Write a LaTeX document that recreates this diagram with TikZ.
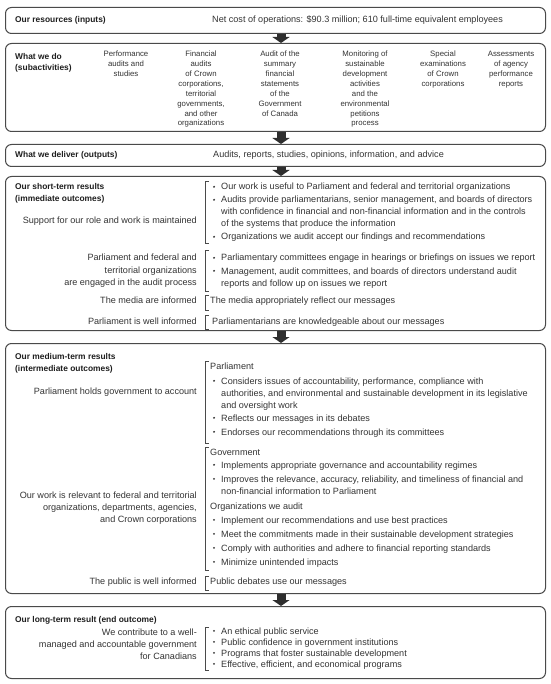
\documentclass[tikz,border=0pt]{standalone}
\usepackage{fontspec}
\setmainfont{Liberation Sans}
\usetikzlibrary{arrows.meta}
\definecolor{txt}{HTML}{333333}
\definecolor{hd}{HTML}{1E1E1E}
\definecolor{bd}{HTML}{4A4A4A}
\definecolor{ar}{HTML}{2E2E2E}
\tikzset{
  box/.style={draw=bd, line width=1pt, rounded corners=6pt, anchor=north west, inner sep=0pt, minimum width=540pt},
  hdr/.style={font=\fontsize{8.4}{10}\selectfont\bfseries, text=hd, inner sep=0pt, anchor=base west},
  body/.style={font=\fontsize{9.1}{12}\selectfont, text=txt, inner sep=0pt},
  col/.style={font=\fontsize{7.8}{10}\selectfont, text=txt, inner sep=0pt, anchor=base},
  dot/.style={circle, fill=txt, inner sep=0pt, minimum size=2.1pt},
  brk/.style={draw=bd, line width=0.6pt},
  bigarrow/.style={draw=ar, line width=9pt, -{Triangle[width=17pt,length=6pt]}}
}
\newcommand\myhd[4]{\node[hdr] (#1) at (#2,#3) {#4};}
\newcommand\mytl[4]{\node[body,anchor=base west] (#1) at (#2,#3) {#4};}
\newcommand\mytr[4]{\node[body,anchor=base east] (#1) at (#2,#3) {#4};}
\newcommand\mybul[3]{\node[dot] (#1d) at (214,#2-3.2) {}; \node[body,anchor=base west] (#1) at (221,#2) {#3};}
\newcommand\mybrk[3]{\draw[brk] (#1+4,#2) -- (#1,#2) -- (#1,#3) -- (#1+4,#3);}
\begin{document}
\begin{tikzpicture}[x=1pt,y=-1pt]
\useasboundingbox (0,0) rectangle (550,684);
\coordinate (ax) at (281,0);
% boxes
\node[box, minimum height=26pt] (b1) at (5,7) {};
\node[box, minimum height=88pt] (b2) at (5,43) {};
\node[box, minimum height=22pt] (b3) at (5,144) {};
\node[box, minimum height=154pt] (b4) at (5,176) {};
\node[box, minimum height=250pt] (b5) at (5,343) {};
\node[box, minimum height=72pt] (b6) at (5,606) {};
% arrows
\draw[bigarrow] (b1.south -| ax) -- (b2.north -| ax);
\draw[bigarrow] (b2.south -| ax) -- (b3.north -| ax);
\draw[bigarrow] (b3.south -| ax) -- (b4.north -| ax);
\draw[bigarrow] (b4.south -| ax) -- (b5.north -| ax);
\draw[bigarrow] (b5.south -| ax) -- (b6.north -| ax);
% box 1
\myhd{h1}{15}{23}{Our resources (inputs)}
\mytl{t1}{212}{23}{Net cost of operations: \$90.3 million; 610 full-time equivalent employees}
% box 2
\myhd{h2a}{15}{60}{What we do}
\myhd{h2b}{15}{71}{(subactivities)}
\foreach \t [count=\i] in {Performance, audits and, studies}
  \node[col] (ca\i) at (126,57+9.85*\i-9.85) {\t};
\foreach \t [count=\i] in {Financial, audits, of Crown, {corporations,}, territorial, {governments,}, and other, organizations}
  \node[col] (cb\i) at (201,57+9.85*\i-9.85) {\t};
\foreach \t [count=\i] in {Audit of the, summary, financial, statements, of the, Government, of Canada}
  \node[col] (cc\i) at (280,57+9.85*\i-9.85) {\t};
\foreach \t [count=\i] in {Monitoring of, sustainable, development, activities, and the, environmental, petitions, process}
  \node[col] (cd\i) at (365,57+9.85*\i-9.85) {\t};
\foreach \t [count=\i] in {Special, examinations, of Crown, corporations}
  \node[col] (ce\i) at (443,57+9.85*\i-9.85) {\t};
\foreach \t [count=\i] in {Assessments, of agency, performance, reports}
  \node[col] (cf\i) at (511,57+9.85*\i-9.85) {\t};
% box 3
\myhd{h3}{15}{158}{What we deliver (outputs)}
\mytl{t3}{213}{158}{Audits, reports, studies, opinions, information, and advice}
% box 4
\myhd{h4a}{15}{190}{Our short-term results}
\myhd{h4b}{15}{202}{(immediate outcomes)}
\mytr{l4a}{197}{224}{Support for our role and work is maintained}
\mybrk{205}{181}{243}
\mybul{s1}{190}{Our work is useful to Parliament and federal and territorial organizations}
\mybul{s2}{203}{Audits provide parliamentarians, senior management, and boards of directors}
\mytl{s2b}{221}{215}{with confidence in financial and non-financial information and in the controls}
\mytl{s2c}{221}{227}{of the systems that produce the information}
\mybul{s3}{240}{Organizations we audit accept our findings and recommendations}
\mytr{l4b}{197}{261}{Parliament and federal and}
\mytr{l4c}{197}{273}{territorial organizations}
\mytr{l4d}{197}{285}{are engaged in the audit process}
\mybrk{205}{250}{291}
\mybul{s4}{261}{Parliamentary committees engage in hearings or briefings on issues we report}
\mybul{s5}{274}{Management, audit committees, and boards of directors understand audit}
\mytl{s5b}{221}{286}{reports and follow up on issues we report}
\mytr{l4e}{197}{303}{The media are informed}
\mybrk{205}{295}{310}
\mytl{s6}{210}{303}{The media appropriately reflect our messages}
\mytr{l4f}{197}{324}{Parliament is well informed}
\mybrk{205}{315}{329}
\mytl{s7}{212}{324}{Parliamentarians are knowledgeable about our messages}
% box 5
\myhd{h5a}{15}{359}{Our medium-term results}
\myhd{h5b}{15}{371}{(intermediate outcomes)}
\mybrk{205}{361}{443}
\mytl{p0}{210}{369}{Parliament}
\mybul{p1}{384}{Considers issues of accountability, performance, compliance with}
\mytl{p1b}{221}{396}{authorities, and environmental and sustainable development in its legislative}
\mytl{p1c}{221}{408}{and oversight work}
\mybul{p2}{421}{Reflects our messages in its debates}
\mybul{p3}{435}{Endorses our recommendations through its committees}
\mytr{l5a}{197}{394}{Parliament holds government to account}
\mybrk{205}{447}{570}
\mytl{g0}{210}{455}{Government}
\mybul{g1}{468}{Implements appropriate governance and accountability regimes}
\mybul{g2}{482}{Improves the relevance, accuracy, reliability, and timeliness of financial and}
\mytl{g2b}{221}{494}{non-financial information to Parliament}
\mytl{o0}{210}{509}{Organizations we audit}
\mybul{o1}{523}{Implement our recommendations and use best practices}
\mybul{o2}{537}{Meet the commitments made in their sustainable development strategies}
\mybul{o3}{551}{Comply with authorities and adhere to financial reporting standards}
\mybul{o4}{565}{Minimize unintended impacts}
\mytr{l5b}{197}{498}{Our work is relevant to federal and territorial}
\mytr{l5c}{197}{510}{organizations, departments, agencies,}
\mytr{l5d}{197}{522}{and Crown corporations}
\mytr{l5e}{197}{584}{The public is well informed}
\mybrk{205}{576}{590}
\mytl{u1}{210}{584}{Public debates use our messages}
% box 6
\myhd{h6}{15}{622}{Our long-term result (end outcome)}
\mytr{l6a}{197}{635}{We contribute to a well-}
\mytr{l6b}{197}{647}{managed and accountable government}
\mytr{l6c}{197}{659}{for Canadians}
\mybrk{205}{627}{670}
\mybul{e1}{634}{An ethical public service}
\mybul{e2}{645}{Public confidence in government institutions}
\mybul{e3}{656}{Programs that foster sustainable development}
\mybul{e4}{667}{Effective, efficient, and economical programs}
\end{tikzpicture}
\end{document}
